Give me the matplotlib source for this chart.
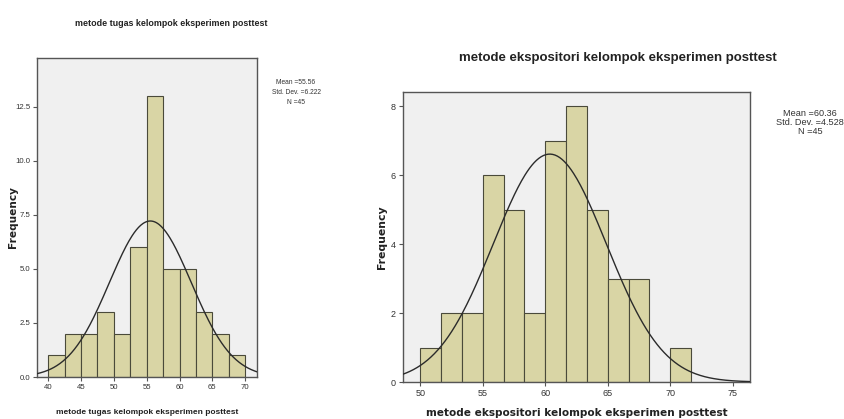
"""
Histogramme posttest (metode tugas / metode ekspositori) mit Normalkurve
"""

import numpy as np
import matplotlib.pyplot as plt
from matplotlib.ticker import FormatStrFormatter

# Daten (Haeufigkeiten pro Klasse)
tugas_edges = [40, 42.5, 45, 47.5, 50, 52.5, 55, 57.5, 60, 62.5, 65, 67.5, 70]
tugas_freq = [1, 2, 2, 3, 2, 6, 13, 5, 5, 3, 2, 1]
tugas_mean, tugas_sd, tugas_n = 55.56, 6.222, 45

ekspo_edges = [50, 51.667, 53.333, 55, 56.667, 58.333, 60, 61.667, 63.333,
               65, 66.667, 68.333, 70, 71.667]
ekspo_freq = [1, 2, 2, 6, 5, 2, 7, 8, 5, 3, 3, 0, 1]
ekspo_mean, ekspo_sd, ekspo_n = 60.36, 4.528, 45

BAR = '#d9d5a5'
BG = '#f0f0f0'
ARIAL = ['Liberation Sans', 'DejaVu Sans']
W, H = 845, 419


def box(l, t, r, b):
    """Pixel-Koordinaten -> Figure-Koordinaten."""
    return [l / W, 1 - b / H, (r - l) / W, (b - t) / H]


def px(x, y):
    return x / W, 1 - y / H


def draw_hist(ax, edges, freq, mean, sd, n, xlim, ylim, tsize):
    edges = np.array(edges)
    widths = np.diff(edges)
    ax.bar(edges[:-1], freq, width=widths, align='edge', color=BAR,
           edgecolor='#4a4a3a', linewidth=0.8, zorder=2)
    x = np.linspace(xlim[0], xlim[1], 300)
    bw = widths[0]
    y = n * bw / (sd * np.sqrt(2 * np.pi)) * np.exp(-0.5 * ((x - mean) / sd) ** 2)
    ax.plot(x, y, color='#2b2b2b', linewidth=1.0, zorder=3)
    ax.set_xlim(*xlim)
    ax.set_ylim(*ylim)
    ax.set_facecolor(BG)
    for s in ax.spines.values():
        s.set_color('#555555')
        s.set_linewidth(1.0)
    ax.tick_params(direction='out', length=3, width=0.8, color='#555555',
                   labelsize=tsize, labelcolor='#333333', pad=2)
    for lab in ax.get_xticklabels() + ax.get_yticklabels():
        lab.set_family(ARIAL)


def stats_box(x, y0, step, size, mean, sd, n):
    # jede Zeile einzeln, sonst ueberlappen die kleinen Zeilen
    lines = ['Mean =%.2f' % mean, 'Std. Dev. =%.3f' % sd, 'N =%d' % n]
    for i, t in enumerate(lines):
        fig.text(*px(x, y0 + i * step), t, ha='center', va='center',
                 fontsize=size, family=ARIAL, color='#333333')


fig = plt.figure(figsize=(W / 100, H / 100), dpi=100)
fig.patch.set_facecolor('white')

# linkes Diagramm
ax1 = fig.add_axes(box(37, 58, 257, 377))
ax1.set_xticks([40, 45, 50, 55, 60, 65, 70])
ax1.set_yticks([0, 2.5, 5, 7.5, 10, 12.5])
ax1.yaxis.set_major_formatter(FormatStrFormatter('%.1f'))
draw_hist(ax1, tugas_edges, tugas_freq, tugas_mean, tugas_sd, tugas_n,
          (38.3, 71.8), (0, 14.75), 5.6)
fig.text(*px(13, 217), 'Frequency', rotation=90, ha='center', va='center',
         fontsize=7.6, fontweight='bold', color='#222222')
fig.text(*px(147, 412), 'metode tugas kelompok eksperimen posttest',
         ha='center', va='center', fontsize=6.0, fontweight='bold',
         family=ARIAL, color='#222222')
fig.text(*px(171, 23), 'metode tugas kelompok eksperimen posttest',
         ha='center', va='center', fontsize=6.4, fontweight='bold',
         family=ARIAL, color='#222222')
stats_box(296, 83, 9.5, 4.8, tugas_mean, tugas_sd, tugas_n)

# rechtes Diagramm
ax2 = fig.add_axes(box(403, 92, 750, 382))
ax2.set_xticks([50, 55, 60, 65, 70, 75])
ax2.set_yticks([0, 2, 4, 6, 8])
draw_hist(ax2, ekspo_edges, ekspo_freq, ekspo_mean, ekspo_sd, ekspo_n,
          (48.6, 76.4), (0, 8.41), 6.5)
fig.text(*px(382, 237), 'Frequency', rotation=90, ha='center', va='center',
         fontsize=7.8, fontweight='bold', color='#222222')
fig.text(*px(577, 413), 'metode ekspositori kelompok eksperimen posttest',
         ha='center', va='center', fontsize=7.6, fontweight='bold',
         color='#222222')
fig.text(*px(618, 58), 'metode ekspositori kelompok eksperimen posttest',
         ha='center', va='center', fontsize=9.5, fontweight='bold',
         family=ARIAL, color='#222222')
stats_box(810, 113, 9, 6.6, ekspo_mean, ekspo_sd, ekspo_n)

plt.savefig('out.png', dpi=100)
